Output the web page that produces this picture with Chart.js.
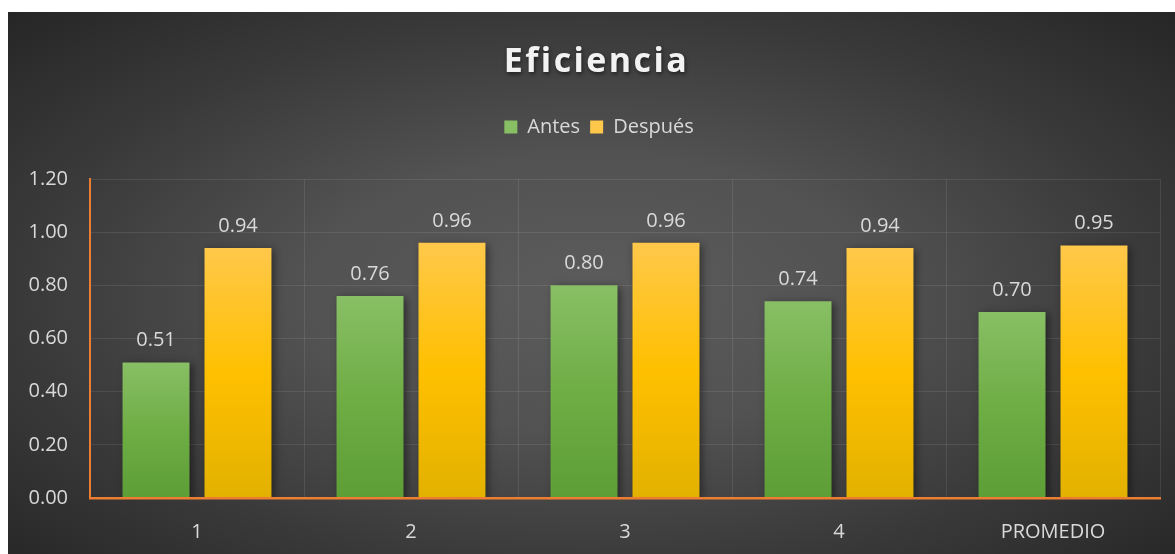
<!DOCTYPE html>
<html>
<head>
<meta charset="utf-8">
<script src="https://cdn.jsdelivr.net/npm/chart.js@4.4.1/dist/chart.umd.min.js"></script>
<style>
  html, body { margin: 0; padding: 0; background: #fff; }
  #wrap {
    position: absolute; left: 8px; top: 12px; width: 1167px; height: 542px;
    background: radial-gradient(ellipse farthest-corner at 50% 52%, #5c5c5c 0%, #525252 35%, #3a3a3a 68%, #262626 100%);
  }
</style>
</head>
<body>
<div id="wrap"><canvas id="chart"></canvas></div>
<script>
const categories = ['1', '2', '3', '4', 'PROMEDIO'];
const antes = [0.51, 0.76, 0.80, 0.74, 0.70];
const despues = [0.94, 0.96, 0.96, 0.94, 0.95];
const yTicks = [0, 0.2, 0.4, 0.6, 0.8, 1.0, 1.2];

const FONT = "'Open Sans', 'Noto Sans', sans-serif";
const TEXT = '#d9d9d9';

// vertical fill per bar: lighter at the top, deeper at the base
function barFill(top, mid, bottom) {
  return (ctx) => {
    const chart = ctx.chart;
    if (ctx.type !== 'data' || !chart.chartArea) return mid;
    const y = chart.scales.y;
    const y0 = y.getPixelForValue(ctx.raw);
    const y1 = y.getPixelForValue(0);
    const g = chart.ctx.createLinearGradient(0, y0, 0, y1);
    g.addColorStop(0, top);
    g.addColorStop(0.5, mid);
    g.addColorStop(1, bottom);
    return g;
  };
}

const titlePlugin = {
  id: 'titulo',
  afterDraw(chart) {
    const ctx = chart.ctx;
    ctx.save();
    ctx.font = 'bold 34px ' + FONT;
    ctx.letterSpacing = '2.4px';
    ctx.textAlign = 'center';
    ctx.textBaseline = 'middle';
    ctx.shadowColor = 'rgba(0,0,0,0.55)';
    ctx.shadowBlur = 4;
    ctx.shadowOffsetX = 1;
    ctx.shadowOffsetY = 2;
    ctx.fillStyle = '#f2f2f2';
    ctx.fillText('Eficiencia', chart.width / 2 + 5, 50);
    ctx.restore();
  }
};

// legend sits a bit right of the canvas centre
const legendNudge = {
  id: 'legendNudge',
  afterLayout(chart) {
    chart.legend.left += 30;
  }
};

const barShadow = {
  id: 'barShadow',
  beforeDatasetsDraw(chart) {
    const ctx = chart.ctx;
    ctx.save();
    ctx.shadowColor = 'rgba(0,0,0,0.45)';
    ctx.shadowBlur = 8;
    ctx.shadowOffsetX = 3;
    ctx.shadowOffsetY = 2;
  },
  afterDatasetsDraw(chart) {
    chart.ctx.restore();
  }
};

const valueLabels = {
  id: 'valueLabels',
  afterDatasetsDraw(chart) {
    const ctx = chart.ctx;
    ctx.save();
    ctx.font = '20px ' + FONT;
    ctx.fillStyle = TEXT;
    ctx.textAlign = 'center';
    ctx.textBaseline = 'bottom';
    chart.data.datasets.forEach((ds, i) => {
      chart.getDatasetMeta(i).data.forEach((bar, j) => {
        ctx.fillText(ds.data[j].toFixed(2), bar.x, bar.y - 12);
      });
    });
    ctx.restore();
  }
};

new Chart(document.getElementById('chart'), {
  type: 'bar',
  data: {
    labels: categories,
    datasets: [
      {
        label: 'Antes',
        data: antes,
        backgroundColor: barFill('#88bf65', '#6fad45', '#5e9e36'),
        borderWidth: 0,
        categoryPercentage: 0.766,
        barPercentage: 0.817
      },
      {
        label: 'Después',
        data: despues,
        backgroundColor: barFill('#ffc84a', '#ffc000', '#e2b100'),
        borderWidth: 0,
        categoryPercentage: 0.766,
        barPercentage: 0.817
      }
    ]
  },
  options: {
    responsive: true,
    maintainAspectRatio: false,
    animation: false,
    layout: { padding: { top: 95, right: 15, left: 0, bottom: 0 } },
    plugins: {
      title: { display: false },
      // empty subtitle used as a gap between legend and plot
      subtitle: { display: true, text: '', weight: 500, padding: 10, font: { size: 10 } },
      legend: {
        position: 'top',
        labels: {
          color: TEXT,
          boxWidth: 13,
          boxHeight: 13,
          padding: 10,
          font: { family: FONT, size: 20 }
        }
      },
      tooltip: { enabled: false }
    },
    scales: {
      x: {
        grid: { color: 'rgba(255,255,255,0.09)', lineWidth: 1, drawTicks: false, offset: true },
        border: { color: '#ed7d31', width: 2.5, z: 1 },
        ticks: { color: TEXT, padding: 22, font: { family: FONT, size: 20 } },
        afterFit: (s) => { s.height = 56; }
      },
      y: {
        min: 0,
        max: 1.2,
        afterBuildTicks: (s) => { s.ticks = yTicks.map(v => ({ value: v })); },
        grid: { color: 'rgba(255,255,255,0.09)', lineWidth: 1, drawTicks: false },
        border: { color: '#ed7d31', width: 2, z: 1 },
        ticks: {
          color: TEXT, padding: 22, font: { family: FONT, size: 20 },
          callback: (v) => Number(v).toFixed(2)
        },
        afterFit: (s) => { s.width = 82; }
      }
    }
  },
  plugins: [titlePlugin, legendNudge, barShadow, valueLabels]
});
</script>
</body>
</html>
